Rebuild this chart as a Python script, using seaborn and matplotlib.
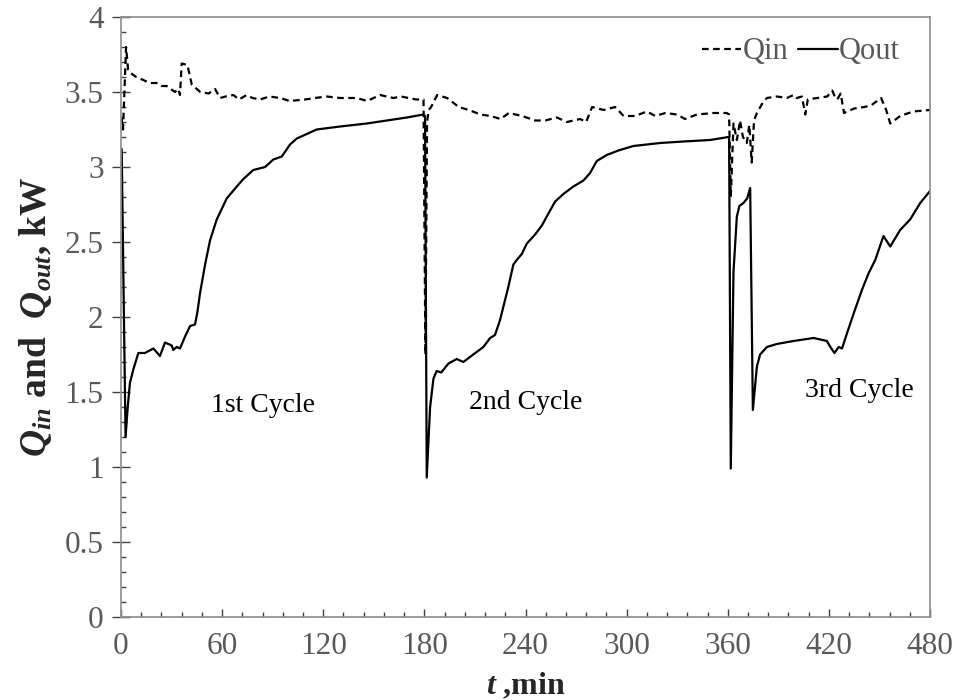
import numpy as np
import pandas as pd
import matplotlib
matplotlib.use("Agg")
import matplotlib.pyplot as plt
import seaborn as sns
from matplotlib.ticker import MultipleLocator, FuncFormatter

# ---------------- data ----------------
t_out = [0.0, 0.4, 2.7, 4.0, 5.3, 7.3, 10.3, 14.2, 19.2, 23.1, 26.1, 30.1, 31.0, 33.0,
         35.0, 38.0, 41.0, 43.9, 45.3, 46.9, 49.9, 52.8, 56.8, 62.7, 68.7, 72.6, 78.5,
         85.5, 90.4, 95.4, 100.3, 104.3, 110.2, 116.1, 130.0, 145.8, 157.7, 169.6, 179.4,
         180.4, 181.4, 183.4, 185.4, 187.3, 190.0, 194.3, 199.2, 203.1, 209.0, 215.0,
         219.0, 221.9, 224.9, 226.9, 229.8, 232.8, 234.8, 237.8, 240.8, 245.7, 249.7,
         253.6, 257.6, 262.5, 268.4, 274.4, 278.3, 282.3, 288.2, 295.1, 304.0, 319.9,
         333.7, 349.6, 360.4, 360.8, 361.8, 363.4, 365.4, 366.9, 369.3, 371.5, 373.3,
         374.9, 377.3, 379.2, 383.2, 389.1, 399.0, 410.9, 415.0, 418.8, 420.9, 423.3,
         425.8, 427.8, 430.7, 434.6, 439.6, 443.5, 447.5, 452.4, 456.4, 462.3, 468.2,
         474.2, 480.0]
q_out = [3.12, 3.12, 1.20, 1.40, 1.56, 1.65, 1.76, 1.76, 1.79, 1.74, 1.83, 1.81, 1.78, 1.80,
         1.79, 1.87, 1.94, 1.95, 2.03, 2.16, 2.35, 2.51, 2.65, 2.79, 2.87, 2.92, 2.98,
         3.00, 3.05, 3.07, 3.15, 3.19, 3.22, 3.25, 3.27, 3.29, 3.31, 3.33, 3.35,
         3.34, 0.93, 1.40, 1.59, 1.64, 1.63, 1.69, 1.72, 1.70, 1.75, 1.80,
         1.86, 1.88, 1.98, 2.07, 2.20, 2.35, 2.38, 2.42, 2.49, 2.55, 2.61,
         2.69, 2.77, 2.82, 2.87, 2.91, 2.96, 3.04, 3.08, 3.11, 3.14, 3.16,
         3.17, 3.18, 3.20, 3.20, 0.99, 2.30, 2.67, 2.74, 2.76, 2.79, 2.86,
         1.38, 1.67, 1.75, 1.80, 1.82, 1.84, 1.86, 1.85, 1.84, 1.80, 1.76,
         1.80, 1.79, 1.89, 2.02, 2.18, 2.29, 2.38, 2.54, 2.47, 2.58, 2.65,
         2.76, 2.84]

t_in = [0.3, 1.2, 3.0, 4.2, 5.3, 9.0, 13.2, 17.0, 21.2, 24.0, 27.1, 32.0, 34.0, 35.0,
        36.0, 39.4, 42.0, 47.0, 52.0, 55.8, 58.8, 62.0, 66.7, 70.0, 74.6, 78.0, 82.5,
        88.0, 94.4, 100.0, 109.2, 115.0, 122.1, 130.0, 139.9, 146.0, 153.7, 161.6,
        166.2, 175.0, 179.5, 180.6, 181.6, 182.6, 184.0, 187.6, 193.5, 200.4, 206.4,
        213.3, 219.3, 225.2, 230.1, 238.0, 245.7, 251.7, 258.6, 264.6, 272.4, 276.0,
        279.5, 286.4, 293.2, 298.2, 305.0, 312.0, 317.0, 323.0, 329.8, 334.7, 341.7,
        351.5, 359.4, 360.8, 361.8, 363.4, 365.4, 367.3, 369.0, 371.3, 372.8, 374.2,
        375.6, 377.3, 380.3, 383.2, 389.2, 395.1, 399.0, 401.0, 404.0, 406.0, 407.5,
        413.0, 419.0, 422.0, 423.5, 425.0, 427.0, 429.0, 435.0, 441.0, 445.0, 451.0,
        454.0, 456.4, 462.3, 470.0, 480.0]
q_in = [3.33, 3.25, 3.80, 3.65, 3.63, 3.60, 3.58, 3.56, 3.56, 3.54, 3.54, 3.50, 3.52, 3.48,
        3.69, 3.68, 3.55, 3.50, 3.49, 3.52, 3.46, 3.47, 3.48, 3.45, 3.48, 3.46, 3.45,
        3.47, 3.46, 3.44, 3.45, 3.46, 3.47, 3.46, 3.46, 3.44, 3.48, 3.46,
        3.47, 3.45, 3.45, 1.75, 3.30, 3.38, 3.40, 3.48, 3.46, 3.40, 3.38,
        3.35, 3.34, 3.32, 3.36, 3.34, 3.31, 3.31, 3.33, 3.30, 3.32, 3.30,
        3.40, 3.38, 3.40, 3.34, 3.34, 3.37, 3.34, 3.36, 3.35, 3.32, 3.35,
        3.36, 3.36, 3.35, 2.80, 3.29, 3.18, 3.31, 3.20, 3.16, 3.28, 3.03,
        3.31, 3.36, 3.42, 3.46, 3.47, 3.46, 3.48, 3.46, 3.47, 3.35, 3.45,
        3.46, 3.47, 3.51, 3.47, 3.45, 3.49, 3.36, 3.39, 3.40, 3.41, 3.46,
        3.38, 3.29, 3.34, 3.37, 3.38]

series_names = ["Qin", "Qout"]
cycle_labels = ["1st Cycle", "2nd Cycle", "3rd Cycle"]
cycle_t = [84, 240, 438]
cycle_q = [1.41, 1.43, 1.51]
x_ticks = [0, 60, 120, 180, 240, 300, 360, 420, 480]
y_ticks = [0, 0.5, 1, 1.5, 2, 2.5, 3, 3.5, 4]

# ---------------- style ----------------
sns.set_theme(style="white")
plt.rcParams["font.family"] = ["Liberation Serif", "DejaVu Serif"]
plt.rcParams.update({
    "mathtext.fontset": "custom",
    "mathtext.rm": "Liberation Serif",
    "mathtext.it": "Liberation Serif:italic",
    "mathtext.bf": "Liberation Serif:bold",
    "mathtext.bfit": "Liberation Serif:bold:italic",
})

df = pd.concat([
    pd.DataFrame({"t": t_in, "Q": q_in, "series": series_names[0]}),
    pd.DataFrame({"t": t_out, "Q": q_out, "series": series_names[1]}),
], ignore_index=True)

fig = plt.figure(figsize=(9.57, 7), dpi=100)
ax = fig.add_axes([121 / 957, 1 - 617 / 700, 809 / 957, 600 / 700])

sns.lineplot(data=df, x="t", y="Q", hue="series", style="series",
             palette={"Qin": "black", "Qout": "black"},
             dashes={"Qin": (3, 2), "Qout": ""},
             estimator=None, sort=False, linewidth=1.6, ax=ax)

ax.set_xlim(0, 480)
ax.set_ylim(0, 4)
ax.set_xticks(x_ticks)
ax.set_yticks(y_ticks)
ax.xaxis.set_minor_locator(MultipleLocator(12))
ax.yaxis.set_minor_locator(MultipleLocator(0.1))
ax.yaxis.set_major_formatter(FuncFormatter(lambda v, p: "%g" % v))

grey = "#595959"
for s in ax.spines.values():
    s.set_color("#8c8c8c")
    s.set_linewidth(1.2)

ax.tick_params(axis="y", which="major", direction="inout", length=13, width=1.0,
               color="#404040", labelsize=22.5, labelcolor=grey, pad=6,
               left=True, right=False)
ax.tick_params(axis="y", which="minor", direction="in", length=3.6, width=1.0,
               color="#404040", left=True)
ax.tick_params(axis="x", which="major", direction="in", length=6, width=1.0,
               color="#404040", labelsize=22.5, labelcolor=grey, pad=11, bottom=True)
ax.tick_params(axis="x", which="minor", direction="in", length=3.6, width=1.0,
               color="#404040", bottom=True)

ax.set_xlabel(r"$\mathbfit{t}$ ,min", fontsize=23, fontweight="bold", labelpad=7)
ax.set_ylabel(r"$\mathbfit{Q}_{\mathbfit{in}}$ and  $\mathbfit{Q}_{\mathbfit{out}}$, kW",
              fontsize=27, fontweight="bold", labelpad=8)

for lab, tx, qy in zip(cycle_labels, cycle_t, cycle_q):
    ax.text(tx, qy, lab, ha="center", va="center", fontsize=20, color="black")

handles, labels = ax.get_legend_handles_labels()
ax.legend(handles, labels, loc="center right", bbox_to_anchor=(0.963, 0.942),
          frameon=False, ncol=2, fontsize=22, labelcolor=grey,
          handlelength=1.3, handletextpad=0.05, columnspacing=0.3,
          borderpad=0, borderaxespad=0)

fig.savefig("out.png", dpi=100)
